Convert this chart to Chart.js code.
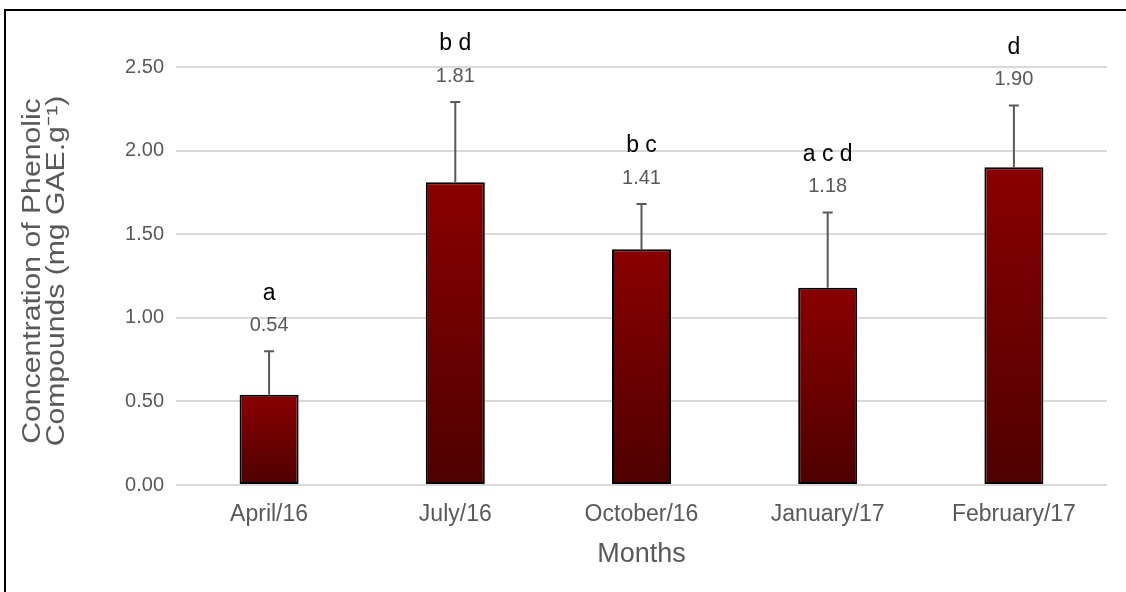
<!DOCTYPE html>
<html>
<head>
<meta charset="utf-8">
<script src="https://cdn.jsdelivr.net/npm/chart.js@4.4.1/dist/chart.umd.min.js"></script>
<style>
  html, body { margin: 0; padding: 0; background: #ffffff; }
  #wrap { width: 1126px; height: 592px; position: relative; }
</style>
</head>
<body>
<div id="wrap"><canvas id="chart" width="1126" height="592"></canvas></div>
<script>
// Sampling months
const months = ['April/16', 'July/16', 'October/16', 'January/17', 'February/17'];
// Mean concentration of phenolic compounds (mg GAE.g-1)
const meanValues = [0.54, 1.81, 1.41, 1.18, 1.90];
// Standard deviation (upper error bar)
const errorValues = [0.26, 0.48, 0.27, 0.45, 0.37];
// Significance letters
const groupLetters = ['a', 'b d', 'b c', 'a c d', 'd'];
// Y axis tick values
const yTickValues = [0, 0.5, 1.0, 1.5, 2.0, 2.5];
// Y axis title lines
const yTitleLines = ['Concentration of Phenolic', 'Compounds (mg GAE.g\u207B\u00B9)'];

const FONT = '"Liberation Sans", Arial, sans-serif';

function barGradient(context) {
  const chart = context.chart;
  const { chartArea } = chart;
  if (!chartArea || context.type !== 'data') return '#7a0000';
  const y = chart.scales.y;
  const top = y.getPixelForValue(context.raw);
  const bottom = y.getPixelForValue(0);
  const g = chart.ctx.createLinearGradient(0, top, 0, bottom);
  g.addColorStop(0, '#8a0000');
  g.addColorStop(1, '#4e0000');
  return g;
}

// Outer frame line (left and top edges)
const framePlugin = {
  id: 'frame',
  beforeDraw(chart) {
    const ctx = chart.ctx;
    ctx.save();
    ctx.fillStyle = '#ffffff';
    ctx.fillRect(0, 0, chart.width, chart.height);
    ctx.strokeStyle = '#000000';
    ctx.lineWidth = 2;
    ctx.strokeRect(5, 10, chart.width + 20, chart.height + 20);
    ctx.restore();
  }
};

// Rotated two-line y axis title, slightly elongated along its baseline
const yTitlePlugin = {
  id: 'yTitle',
  afterDraw(chart) {
    const ctx = chart.ctx;
    ctx.save();
    ctx.fillStyle = '#595959';
    ctx.font = '26px ' + FONT;
    ctx.textAlign = 'center';
    ctx.textBaseline = 'middle';
    const cy = 271;
    const xs = [33, 57];
    yTitleLines.forEach((line, i) => {
      ctx.save();
      ctx.translate(xs[i], cy);
      ctx.rotate(-Math.PI / 2);
      ctx.scale(1.16, 1);
      ctx.fillText(line, 0, 0);
      ctx.restore();
    });
    ctx.restore();
  }
};

// Error bars plus value and letter labels above each bar
const errorBarPlugin = {
  id: 'errorBars',
  afterDatasetsDraw(chart) {
    const ctx = chart.ctx;
    const meta = chart.getDatasetMeta(0);
    const y = chart.scales.y;
    ctx.save();
    meta.data.forEach((bar, i) => {
      const x = bar.x;
      const yTop = y.getPixelForValue(meanValues[i]);
      const yCap = y.getPixelForValue(meanValues[i] + errorValues[i]);
      ctx.strokeStyle = '#595959';
      ctx.lineWidth = 2;
      ctx.beginPath();
      ctx.moveTo(x, yTop);
      ctx.lineTo(x, yCap);
      ctx.moveTo(x - 5, yCap);
      ctx.lineTo(x + 5, yCap);
      ctx.stroke();

      ctx.textAlign = 'center';
      ctx.textBaseline = 'middle';
      ctx.fillStyle = '#595959';
      ctx.font = '20px ' + FONT;
      const valueY = yCap - 26;
      ctx.fillText(meanValues[i].toFixed(2), x, valueY);

      ctx.fillStyle = '#000000';
      ctx.font = '23px ' + FONT;
      ctx.fillText(groupLetters[i], x, valueY - 32);
    });
    ctx.restore();
  }
};

new Chart(document.getElementById('chart'), {
  type: 'bar',
  data: {
    labels: months,
    datasets: [{
      data: meanValues,
      backgroundColor: barGradient,
      borderColor: '#000000',
      borderWidth: 2,
      borderSkipped: false,
      categoryPercentage: 1.0,
      barPercentage: 0.317
    }]
  },
  options: {
    responsive: false,
    animation: false,
    devicePixelRatio: 1,
    layout: { padding: { top: 67, right: 19, left: 0, bottom: 0 } },
    plugins: {
      legend: { display: false },
      tooltip: { enabled: false }
    },
    scales: {
      x: {
        grid: { display: false, drawTicks: false },
        border: { display: false },
        ticks: { color: '#595959', font: { family: FONT, size: 23 }, padding: 16 },
        title: {
          display: true,
          text: 'Months',
          color: '#595959',
          font: { family: FONT, size: 27 },
          padding: { top: 0, bottom: 21 }
        },
        afterFit(scale) { scale.height = 107; }
      },
      y: {
        min: 0,
        max: 2.5,
        grid: { color: '#d9d9d9', lineWidth: 2, drawTicks: false },
        border: { display: false },
        afterBuildTicks(scale) { scale.ticks = yTickValues.map(v => ({ value: v })); },
        ticks: {
          color: '#595959',
          font: { family: FONT, size: 20 },
          padding: 12,
          callback: (v) => Number(v).toFixed(2)
        },
        title: { display: false },
        afterFit(scale) { scale.width = 176; }
      }
    }
  },
  plugins: [framePlugin, yTitlePlugin, errorBarPlugin]
});
</script>
</body>
</html>
